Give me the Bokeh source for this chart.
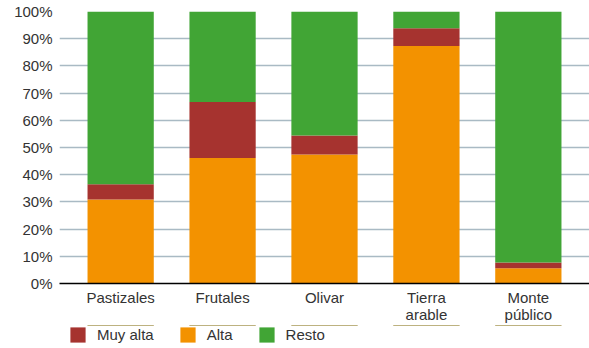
from bokeh.plotting import figure
from bokeh.layouts import column
from bokeh.models import (ColumnDataSource, Range1d, FixedTicker, Legend, LegendItem)
from bokeh.embed import file_html
from bokeh.resources import INLINE

# Land use categories and share of surface (%) per erosion class
categories = ["Pastizales", "Frutales", "Olivar", "Tierra\narable", "Monte\npúblico"]
alta = [30.9, 46.1, 47.4, 87.3, 5.6]
muy_alta = [5.6, 20.6, 7.0, 6.5, 2.1]
resto = [63.5, 33.3, 45.6, 6.2, 92.3]
y_ticks = list(range(0, 101, 10))

series = ["alta", "muy_alta", "resto"]
labels = {"muy_alta": "Muy alta", "alta": "Alta", "resto": "Resto"}
colors = {"alta": "#F39200", "muy_alta": "#A6332F", "resto": "#41A535"}

x = list(range(len(categories)))
src = ColumnDataSource(dict(x=x, alta=alta, muy_alta=muy_alta, resto=resto))

font = "Liberation Sans"
text_color = "#333333"

p = figure(frame_width=530, frame_height=272, output_backend="svg", toolbar_location=None,
           x_range=Range1d(-0.6, 4.6), y_range=Range1d(0, 100),
           min_border_left=59, min_border_right=0, min_border_top=11, min_border_bottom=0)
p.outline_line_color = None

p.vbar_stack(series, x="x", width=0.65, source=src,
             color=[colors[s] for s in series], line_color=None)

# y axis: percentages, no axis line
p.yaxis.ticker = FixedTicker(ticks=y_ticks)
p.yaxis.major_label_overrides = {t: f"{t}%" for t in y_ticks}
p.yaxis.axis_line_color = None
p.yaxis.major_tick_line_color = None
p.yaxis.minor_tick_line_color = None
p.yaxis.major_label_standoff = 1
p.yaxis.major_label_text_font = font
p.yaxis.major_label_text_font_size = "15px"
p.yaxis.major_label_text_color = text_color

# x axis: category names under each bar
p.xaxis.ticker = FixedTicker(ticks=x)
p.xaxis.major_label_overrides = {i: c for i, c in zip(x, categories)}
p.xaxis.axis_line_color = "black"
p.xaxis.axis_line_width = 1.5
p.xaxis.major_tick_line_color = None
p.xaxis.minor_tick_line_color = None
p.xaxis.major_tick_out = 0
p.xaxis.major_tick_in = 0
p.xaxis.minor_tick_out = 0
p.xaxis.major_label_standoff = 5
p.xaxis.major_label_text_font = font
p.xaxis.major_label_text_font_size = "15px"
p.xaxis.major_label_text_color = text_color
p.xaxis.major_label_text_line_height = 1.0

p.xgrid.grid_line_color = None
p.ygrid.ticker = FixedTicker(ticks=y_ticks[1:])
p.ygrid.grid_line_color = "#A9BAC4"
p.ygrid.grid_line_width = 1.5
p.ygrid.level = "underlay"

# legend strip underneath the chart; its bars sit outside the visible range
lg = figure(frame_width=530, height=21, output_backend="svg", toolbar_location=None,
            x_range=Range1d(-0.6, 4.6), y_range=Range1d(-2, -1),
            min_border_left=59, min_border_right=0, min_border_top=0, min_border_bottom=0)
lg.outline_line_color = None
lg.axis.visible = False
lg.grid.visible = False
lg_renderers = lg.vbar_stack(series, x="x", width=0.65, source=src,
                             color=[colors[s] for s in series], line_color=None)
lg_map = dict(zip(series, lg_renderers))
legend = Legend(items=[LegendItem(label=labels[s], renderers=[lg_map[s]])
                       for s in ["muy_alta", "alta", "resto"]],
                orientation="horizontal", location=(9, 2),
                label_text_font=font, label_text_font_size="15px",
                label_text_color=text_color, glyph_width=19, glyph_height=19,
                label_height=19, spacing=24, label_standoff=10,
                border_line_color=None, background_fill_alpha=0, padding=0, margin=0)
lg.add_layout(legend)

layout = column(p, lg, spacing=0)
open("out.html", "w").write(file_html(layout, INLINE))
